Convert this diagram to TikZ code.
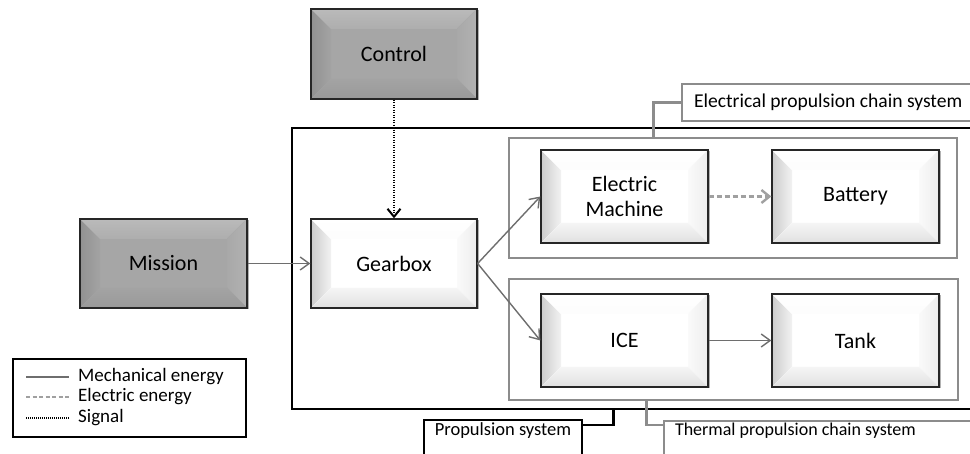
\documentclass[tikz,border=0pt]{standalone}
\usepackage{fontspec}
\setmainfont{Carlito}
\usetikzlibrary{arrows.meta,calc,shadows}
\definecolor{mechc}{HTML}{6E6E6E}
\definecolor{elecc}{HTML}{A0A0A0}
\definecolor{chainc}{HTML}{8C8C8C}
\begin{document}
\begin{tikzpicture}[x=1pt,y=1pt,
  every node/.style={font=\fontsize{22}{25}\selectfont},
  bevbox/.style n args={5}{draw=black!85, line width=1.3pt, fill=#5,
    minimum width=167, minimum height=92, inner sep=0pt, align=center,
    drop shadow={shadow xshift=1.5pt,shadow yshift=-1.5pt,opacity=0.3,fill=black},
    path picture={
      \coordinate (pA) at (path picture bounding box.south west);
      \coordinate (pB) at (path picture bounding box.north west);
      \coordinate (pC) at (path picture bounding box.north east);
      \coordinate (pD) at (path picture bounding box.south east);
      \fill[#4] (pA) -- (pB) -- ($(pB)+(20,-20)$) -- ($(pA)+(20,20)$) -- cycle;
      \fill[#1] (pB) -- (pC) -- ($(pC)+(-20,-20)$) -- ($(pB)+(20,-20)$) -- cycle;
      \fill[#2] (pC) -- (pD) -- ($(pD)+(-20,20)$) -- ($(pC)+(-20,-20)$) -- cycle;
      \fill[#3] (pD) -- (pA) -- ($(pA)+(20,20)$) -- ($(pD)+(-20,20)$) -- cycle;
    }},
  darkbox/.style={bevbox={top color=black!27,bottom color=black!32}{right color=black!30,left color=black!34}{bottom color=black!40,top color=black!36}{left color=black!43,right color=black!36}{black!35}},
  whitebox/.style={bevbox={top color=white,bottom color=black!1}{right color=black!7,left color=black!2}{bottom color=black!12,top color=black!4}{left color=black!20,right color=black!5}{white}},
  chainbox/.style={draw=chainc, line width=2.6pt, inner sep=0pt},
  mech/.style={draw=mechc, line width=1.4pt, -{Straight Barb[length=9pt,width=13pt]}},
  elec/.style={draw=elecc, line width=2.4pt, dash pattern=on 5pt off 3pt, -{Straight Barb[length=8pt,width=13pt]}},
  signal/.style={draw=black, line width=2pt, dash pattern=on 1.2pt off 1.3pt, -{Straight Barb[length=8pt,width=13pt]}},
  lab/.style={fill=white, line width=2pt, align=flush left},
  legtext/.style={anchor=west, inner sep=0pt, text height=10, text depth=3, font=\fontsize{19}{22}\selectfont},
  graycon/.style={draw=chainc, line width=2.6pt},
  blackcon/.style={draw=black, line width=2.6pt},
]
\useasboundingbox (0,0) rectangle (970,454);
\clip (0,0) rectangle (970,454);

% outer propulsion system box
\node[draw=black, line width=2.8pt, minimum width=708, minimum height=281, inner sep=0pt] (prop) at (646,185.5) {};

% chain boxes
\node[chainbox, minimum width=448, minimum height=120] (echain) at (733,256) {};
\node[chainbox, minimum width=449, minimum height=121] (tchain) at (733.5,114.5) {};

% blocks
\node[darkbox, minimum width=166, minimum height=90] (ctrl) at (394,400) {Control};
\node[darkbox, minimum height=89] (mis) at (163.5,190.5) {Mission};
\node[whitebox, minimum width=166, minimum height=89] (gb) at (394,190.5) {Gearbox};
\node[whitebox, minimum height=93] (em) at (624.5,257.5) {Electric\\Machine};
\node[whitebox, minimum height=93] (bat) at (855.5,257.5) {Battery};
\node[whitebox, minimum height=93] (ice) at (624.5,113.5) {ICE};
\node[whitebox, minimum height=93] (tank) at (855.5,113.5) {Tank};

% connectors
\draw[signal] (ctrl.south) -- (gb.north);
\draw[mech] (mis.east) -- (gb.west);
\draw[mech] (gb.east) -- (em.west);
\draw[mech] (gb.east) -- (ice.west);
\draw[elec] (em.east) -- (bat.west);
\draw[mech] (ice.east) -- (tank.west);

% labels
\node[lab, draw=chainc, anchor=west, text width=290, inner xsep=12, minimum height=37, font=\fontsize{19.6}{23}\selectfont] (elab) at (681,351.5) {Electrical propulsion chain system};
\draw[graycon] (elab.west) -| ($(echain.north west)+(146,0)$);

\node[lab, draw=black, anchor=north west, minimum width=158, inner ysep=0pt, text height=16, text depth=30, align=center, font=\fontsize{18.5}{22}\selectfont] (plab) at (423,35) {Propulsion system};
\draw[blackcon] ($(plab.north east)+(0,-6)$) -| ($(prop.south west)+(323,0)$);

\node[lab, draw=chainc, anchor=north west, text width=300, inner xsep=11, inner ysep=0pt, text height=15, text depth=30, font=\fontsize{18}{22}\selectfont] (tlab) at (663,34) {Thermal propulsion chain system};
\draw[graycon] ($(tchain.south west)+(139,0)$) |- ($(tlab.north west)+(0,-5)$);

% legend
\node[draw=black, line width=2pt, anchor=south west, minimum width=233, minimum height=78, inner sep=0pt] (leg) at (12,16) {};
\draw[draw=mechc, line width=1.4pt] (26,77) -- (69,77);
\draw[draw=elecc, line width=1.4pt, dash pattern=on 4pt off 2.5pt] (26,57) -- (69,57);
\draw[draw=black, line width=1.4pt, dash pattern=on 1pt off 1pt] (26,36) -- (69,36);
\node[legtext] (l1) at (78,76) {Mechanical energy};
\node[legtext] (l2) at (78,56) {Electric energy};
\node[legtext] (l3) at (78,35) {Signal};
\end{tikzpicture}
\end{document}
